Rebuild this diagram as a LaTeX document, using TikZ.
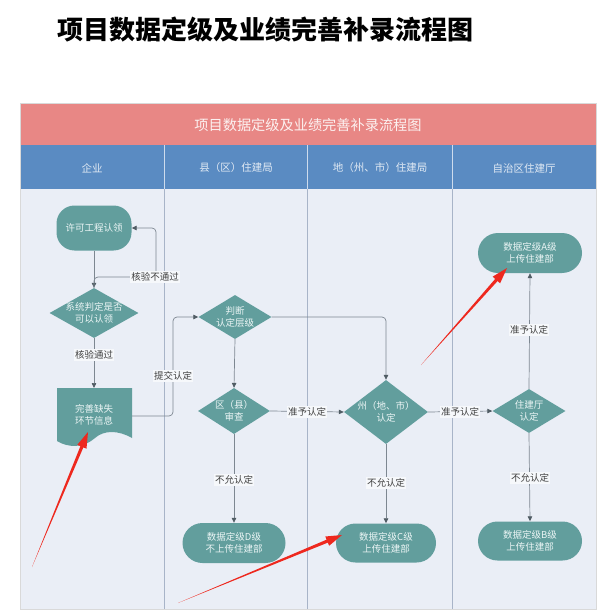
\documentclass[tikz,border=0pt]{standalone}
\usepackage{fontspec}
\newfontfamily\cjk{Noto Sans CJK SC}
\usetikzlibrary{shapes.geometric,shapes.misc,arrows.meta,calc}
\definecolor{tealA}{RGB}{98,158,157}
\definecolor{pinkH}{RGB}{232,135,133}
\definecolor{blueH}{RGB}{90,139,194}
\definecolor{bodyC}{RGB}{234,238,246}
\definecolor{laneL}{RGB}{168,180,200}
\definecolor{edgeC}{RGB}{125,135,145}
\definecolor{tipC}{RGB}{80,92,100}
\definecolor{labBg}{RGB}{246,248,251}
\definecolor{redA}{RGB}{238,40,30}
\tikzset{
  ntxt/.style={text=white!92!teal, font=\cjk\fontsize{9.5}{12.5}\selectfont, align=center, inner sep=0pt},
  dia/.style={diamond, fill=tealA, draw=none, inner sep=0pt},
  stad/.style={rounded rectangle, fill=tealA, draw=none, inner sep=0pt, ntxt},
  arr/.style={draw=edgeC, line width=0.7pt, rounded corners=4pt, -{Triangle[length=5pt,width=4.5pt,color=tipC]}},
  lab/.style={fill=labBg, inner sep=1.2pt, text=black!75, font=\cjk\fontsize{9.5}{11}\selectfont},
  lanehd/.style={text=white!82!blueH, font=\cjk\fontsize{10.5}{12}\selectfont}
}
\newcommand{\redarrow}[3]{%
  \coordinate (#1n) at ($(#3)!16pt!(#2)$);
  \fill[redA] (#2) -- ($(#1n)!1.6pt!90:(#3)$) -- ($(#1n)!5pt!90:(#3)$) -- (#3)
    -- ($(#1n)!5pt!-90:(#3)$) -- ($(#1n)!1.6pt!-90:(#3)$) -- cycle;}
\begin{document}
\begin{tikzpicture}[x=1pt,y=-1pt]
\useasboundingbox (0,0) rectangle (616,615);
\fill[white] (0,0) rectangle (616,615);
% title
\node (title) at (265,30) {\cjk\bfseries\fontsize{26}{27}\selectfont 项目数据定级及业绩完善补录流程图};
% frame
\fill[bodyC] (20,189) rectangle (596,609);
\fill[pinkH] (20,103) rectangle (596,145);
\fill[blueH] (20,145) rectangle (596,189);
\draw[black!15, line width=0.6pt] (20,103) rectangle (596,609);
\node (hdr) at (308,125) {\cjk\fontsize{14.2}{16}\selectfont\color{white!88!pinkH}项目数据定级及业绩完善补录流程图};
\foreach \xx in {164,307,452}{
  \draw[white!70!blueH, line width=0.5pt] (\xx,145) -- (\xx,189);
  \draw[laneL, line width=0.6pt] (\xx,189) -- (\xx,609);
}
\node[lanehd] (h1) at (92,168) {企业};
\node[lanehd] (h2) at (236,168) {县（区）住建局};
\node[lanehd] (h3) at (380,168) {地（州、市）住建局};
\node[lanehd] (h4) at (524,168) {自治区住建厅};
% nodes
\node[fill=tealA, rounded corners=18pt, minimum width=75pt, minimum height=45pt, ntxt] (start) at (94,228) {许可工程认领};
\node[dia, minimum width=89pt, minimum height=50pt, label={[ntxt]center:系统判定是否\\可以认领}] (d1) at (94,313) {};
% document shape
\fill[tealA] (57,388) -- (132,388) -- (132,438) .. controls (118,430) and (104,430) .. (95,438) .. controls (84,448) and (68,448) .. (57,441) -- cycle;
\coordinate (docN) at (94,388);
\coordinate (docE) at (132,416);
\node[ntxt] (doc) at (94,415) {完善缺失\\环节信息};
\node[dia, minimum width=73pt, minimum height=44pt, label={[ntxt]center:判断\\认定层级}] (d2) at (235,317) {};
\node[dia, minimum width=72pt, minimum height=46pt, label={[ntxt]center:区（县）\\审查}] (d3) at (234,411) {};
\node[dia, minimum width=84pt, minimum height=64pt, label={[ntxt]center:州（地、市）\\认定}] (d4) at (386,412) {};
\node[dia, minimum width=73pt, minimum height=44pt, label={[ntxt]center:住建厅\\认定}] (d5) at (529,411) {};
\node[stad, minimum width=104pt, minimum height=40pt] (A) at (530,253) {数据定级A级\\上传住建部};
\node[stad, minimum width=103pt, minimum height=40pt] (D) at (234,543) {数据定级D级\\不上传住建部};
\node[stad, minimum width=100pt, minimum height=39pt] (C) at (386,543) {数据定级C级\\上传住建部};
\node[stad, minimum width=104pt, minimum height=39pt] (B) at (530,541) {数据定级B级\\上传住建部};
% connectors
\coordinate (k1) at (156,277);
\coordinate (k2) at (173,416);
\coordinate (k3) at (386,317);
\draw[arr] (start.south) -- (d1.north);
\draw[arr] (d1.north) |- (k1) |- (start.east);
\node[lab] (l1) at (155,277) {核验不通过};
\draw[arr] (d1.south) -- (docN);
\node[lab] (l2) at (94,355) {核验通过};
\draw[arr] (docE) -- (k2) |- (d2.west);
\node[lab] (l3) at (173,376) {提交认定};
\draw[arr] (d2.east) -- (k3) -- (d4.north);
\draw[arr] (d2.south) -- (d3.north);
\draw[arr] (d3.east) -- (d4.west);
\node[lab] (l4) at (307,412) {准予认定};
\draw[arr] (d4.east) -- (d5.west);
\node[lab] (l5) at (460,412) {准予认定};
\draw[arr] (d5.north) -- (A.south);
\node[lab] (l6) at (529,330) {准予认定};
\draw[arr] (d3.south) -- (D.north);
\node[lab] (l7) at (234,480) {不允认定};
\draw[arr] (d4.south) -- (C.north);
\node[lab] (l8) at (386,483) {不允认定};
\draw[arr] (d5.south) -- (B.north);
\node[lab] (l9) at (530,478) {不允认定};
% red annotation arrows
\coordinate (r1t) at (32,567); \coordinate (r1h) at (88,432);
\coordinate (r2t) at (421,365); \coordinate (r2h) at (507,268);
\coordinate (r3t) at (178,603); \coordinate (r3h) at (342,535);
\redarrow{ra}{r1t}{r1h}
\redarrow{rb}{r2t}{r2h}
\redarrow{rc}{r3t}{r3h}
\end{tikzpicture}
\end{document}
